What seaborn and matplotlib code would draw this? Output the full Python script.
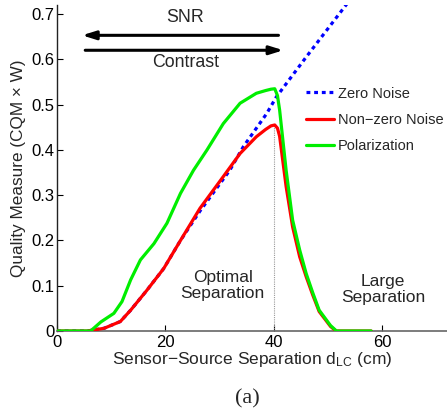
import matplotlib
matplotlib.use("Agg")
import matplotlib.pyplot as plt
import seaborn as sns
import pandas as pd

# sensor-source separation (cm) and quality measure
x_zero = [0, 5.6, 8.7, 11.7, 13.6, 16.6, 19.7, 22.8, 26.4, 31.9, 34.4, 38.7, 40.5, 46.0, 54.0]
q_zero = [0, 0, 0.006, 0.021, 0.046, 0.09, 0.138, 0.2, 0.265, 0.355, 0.407, 0.48, 0.517, 0.605, 0.73]

x_noise = [0, 5.6, 8.7, 11.7, 13.6, 16.6, 19.7, 22.8, 26.4, 30.7, 33.8, 36.8, 38.5, 39.5, 40.2,
           40.7, 41.1, 42.3, 43.5, 44.8, 46.0, 47.2, 48.4, 50.5, 51.5, 58]
q_noise = [0, 0, 0.006, 0.021, 0.046, 0.09, 0.138, 0.2, 0.271, 0.341, 0.392, 0.429, 0.445, 0.453, 0.455,
           0.448, 0.43, 0.319, 0.23, 0.164, 0.12, 0.08, 0.043, 0.01, 0, 0]

x_pol = [0, 6.2, 8.1, 10.5, 12.0, 13.6, 15.4, 17.9, 20.3, 22.8, 25.2, 27.7, 30.7, 33.8, 36.8,
         38.5, 39.5, 40.2, 40.7, 41.1, 42.3, 43.5, 44.8, 46.0, 47.2, 48.4, 50.5, 51.6, 58]
q_pol = [0, 0, 0.02, 0.039, 0.065, 0.113, 0.157, 0.193, 0.238, 0.304, 0.355, 0.40, 0.458, 0.503,
         0.525, 0.531, 0.534, 0.535, 0.52, 0.488, 0.355, 0.245, 0.179, 0.127, 0.085, 0.046, 0.012, 0, 0]

x_ticks = [0, 20, 40, 60]
y_ticks = [0, 0.1, 0.2, 0.3, 0.4, 0.5, 0.6, 0.7]
y_ticklabels = ["0", "0.1", "0.2", "0.3", "0.4", "0.5", "0.6", "0.7"]

sns.set_style("ticks")
plt.rcParams["font.family"] = ["Liberation Sans", "DejaVu Sans"]
plt.rcParams["mathtext.fontset"] = "custom"
plt.rcParams["mathtext.rm"] = "Liberation Sans"
plt.rcParams["mathtext.it"] = "Liberation Sans"

fig = plt.figure(figsize=(4.47, 4.12), dpi=100)
ax = fig.add_axes([0.1275, 0.1966, 0.8725, 0.7913])

df_zero = pd.DataFrame({"x": x_zero, "q": q_zero})
df_noise = pd.DataFrame({"x": x_noise, "q": q_noise})
df_pol = pd.DataFrame({"x": x_pol, "q": q_pol})

sns.lineplot(data=df_zero, x="x", y="q", ax=ax, color="#0000ff", lw=2.3,
             linestyle=(0, (1.2, 1.2)), label="Zero Noise", zorder=2)
sns.lineplot(data=df_noise, x="x", y="q", ax=ax, color="#ff0000", lw=2.3,
             label="Non\u2212zero Noise", zorder=3)
sns.lineplot(data=df_pol, x="x", y="q", ax=ax, color="#00ee00", lw=2.3,
             label="Polarization", zorder=4)

# optimal separation marker
ax.plot([40, 40], [0, 0.455], color="#999999", lw=0.8, linestyle=(0, (1, 1)), zorder=1)

ax.set_xlim(0, 72)
ax.set_ylim(0, 0.72)
ax.set_xticks(x_ticks)
ax.set_yticks(y_ticks)
ax.set_yticklabels(y_ticklabels)
ax.tick_params(direction="in", length=4, labelsize=12, colors="black")
ax.tick_params(axis="x", pad=3)
ax.tick_params(axis="y", pad=2)
for s in ["top", "right"]:
    ax.spines[s].set_visible(False)
ax.spines["left"].set_color("#222222")
ax.spines["bottom"].set_color("#666666")
ax.spines["left"].set_linewidth(1.0)
ax.spines["bottom"].set_linewidth(1.2)

ax.set_xlabel(r"Sensor$-$Source Separation d$_{\rm LC}$ (cm)", fontsize=12.5, labelpad=0)
ax.set_ylabel("Quality Measure (CQM \u00d7 W)", fontsize=12.3, labelpad=4)

# arrows
ax.annotate("", xy=(4.1, 0.653), xytext=(41.4, 0.653),
            arrowprops=dict(arrowstyle="-|>,head_length=0.8,head_width=0.25", color="black", lw=2.2))
ax.annotate("", xy=(42.3, 0.62), xytext=(4.7, 0.62),
            arrowprops=dict(arrowstyle="-|>,head_length=0.8,head_width=0.25", color="black", lw=2.2))
ax.text(23.7, 0.692, "SNR", ha="center", va="center", fontsize=12.8)
ax.text(23.7, 0.594, "Contrast", ha="center", va="center", fontsize=12.8)

ax.text(30.6, 0.10, "Optimal\nSeparation", ha="center", va="center", fontsize=12.5, linespacing=1.1)
ax.text(60.2, 0.092, "Large\nSeparation", ha="center", va="center", fontsize=12.5, linespacing=1.1)

ax.legend(loc="upper left", bbox_to_anchor=(0.685, 0.79), bbox_transform=fig.transFigure,
          frameon=False, fontsize=10.5, handlelength=1.9, handletextpad=0.25,
          labelspacing=0.84, borderpad=0, borderaxespad=0)

fig.text(0.553, 0.032, "(a)", ha="center", va="center", fontsize=16,
         family=["Liberation Serif", "DejaVu Serif"])

fig.savefig("out.png", dpi=100)
